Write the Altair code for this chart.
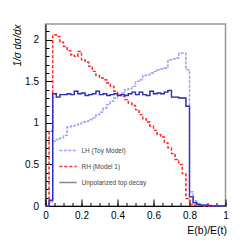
import altair as alt
import pandas as pd

BIN_WIDTH = 0.02
SERIES = ["LH (Toy Model)", "RH (Model 1)", "Unpolarized top decay"]

lh = [0.0, 0.05, 0.78, 0.80, 0.82, 0.85, 0.95, 0.96, 0.97, 0.99,
      1.01, 1.02, 1.04, 1.06, 1.10, 1.13, 1.18, 1.22, 1.26, 1.30,
      1.33, 1.36, 1.40, 1.41, 1.44, 1.50, 1.52, 1.57, 1.58, 1.60,
      1.62, 1.64, 1.65, 1.66, 1.76, 1.77, 1.78, 1.84, 1.84, 1.64,
      0.17, 0.06, 0.03, 0.02, 0.01, 0.01, 0.005, 0.005, 0.0, 0.0]

rh = [0.0, 0.90, 2.06, 2.04, 1.97, 1.92, 1.87, 1.82, 1.80, 1.86,
      1.76, 1.73, 1.68, 1.62, 1.57, 1.54, 1.52, 1.48, 1.44, 1.38,
      1.34, 1.32, 1.28, 1.24, 1.21, 1.16, 1.10, 1.05, 1.01, 0.96,
      0.91, 0.86, 0.83, 0.76, 0.70, 0.63, 0.56, 0.50, 0.39, 0.09,
      0.02, 0.01, 0.01, 0.005, 0.0, 0.0, 0.0, 0.0, 0.0, 0.0]

unpol = [0.0, 0.07, 1.35, 1.31, 1.34, 1.34, 1.35, 1.34, 1.38, 1.35,
         1.36, 1.33, 1.34, 1.35, 1.38, 1.34, 1.35, 1.33, 1.34, 1.35,
         1.33, 1.34, 1.33, 1.35, 1.37, 1.34, 1.37, 1.34, 1.33, 1.38,
         1.35, 1.36, 1.35, 1.37, 1.39, 1.31, 1.31, 1.30, 1.30, 1.20,
         0.11, 0.04, 0.02, 0.01, 0.01, 0.005, 0.0, 0.0, 0.0, 0.0]

x_major = [0, 0.2, 0.4, 0.6, 0.8, 1]
x_minor = [round(i * 0.05, 2) for i in range(21)]
y_major = [0, 0.5, 1, 1.5, 2]
y_minor = [round(i * 0.1, 2) for i in range(22)]

rows = []
for name, vals in zip(SERIES, [lh, rh, unpol]):
    for i, v in enumerate(vals):
        rows.append({"series": name, "x": round(i * BIN_WIDTH, 4), "y": v, "order": i})
    rows.append({"series": name, "x": round(len(vals) * BIN_WIDTH, 4), "y": vals[-1], "order": len(vals)})
df = pd.DataFrame(rows)

x_scale = alt.Scale(domain=[0, 1], nice=False, zero=False)
y_scale = alt.Scale(domain=[0, 2.19], nice=False, zero=False)
dash_range = [[3, 1.5], [3, 2], [1, 0]]

base = alt.Chart(df)

leg = alt.Legend(title=None, orient="none", legendX=13, legendY=117,
                 symbolType="stroke", symbolSize=300, symbolStrokeWidth=1.5,
                 labelFontSize=6.5, labelColor="#444444", labelFont="Liberation Sans",
                 rowPadding=3, labelOffset=4)

legend_layer = base.mark_line(interpolate="step-after", strokeWidth=0.8).encode(
    x=alt.X("x:Q", scale=x_scale, axis=None),
    y=alt.Y("y:Q", scale=y_scale, axis=None),
    color=alt.Color("series:N", scale=alt.Scale(domain=SERIES, range=["#a0a0ff", "#ff3030", "#888888"]), legend=leg),
    strokeDash=alt.StrokeDash("series:N", scale=alt.Scale(domain=SERIES, range=dash_range), legend=leg),
    order="order:Q",
)

main = base.mark_line(interpolate="step-after", strokeWidth=1.4).encode(
    x=alt.X("x:Q", scale=x_scale,
            axis=alt.Axis(orient="bottom", values=x_major, format="~g", ticks=False, grid=False,
                          domainColor="black", labelFontSize=10, labelFont="Liberation Sans",
                          labelColor="black", labelPadding=4, labelFlush=False,
                          title="E(b)/E(t)", titleFontSize=10.5, titleFont="Liberation Sans",
                          titleFontWeight="normal", titleAlign="right", titleBaseline="middle",
                          titleX=181, titleY=24, titleColor="black")),
    y=alt.Y("y:Q", scale=y_scale,
            axis=alt.Axis(orient="left", values=y_major, format="~g", ticks=False, grid=False,
                          domainColor="black", labelFontSize=10, labelFont="Liberation Sans",
                          labelColor="black", labelPadding=7, labelFlush=False,
                          title="1/σ dσ/dx", titleFontSize=10, titleFont="Liberation Sans",
                          titleFontWeight="normal", titleFontStyle="italic", titleAngle=270,
                          titleAlign="right", titleBaseline="middle", titleX=-28, titleY=0,
                          titleColor="black")),
    color=alt.Color("series:N", scale=alt.Scale(domain=SERIES, range=["#a0a0ff", "#ff3030", "#3030c0"]), legend=None),
    strokeDash=alt.StrokeDash("series:N", scale=alt.Scale(domain=SERIES, range=dash_range), legend=None),
    order="order:Q",
)

def tick_layer(xvals, yvals, size):
    return base.mark_point(opacity=0).encode(
        x=alt.X("x:Q", scale=x_scale,
                axis=alt.Axis(orient="bottom", values=xvals, offset=-size, tickSize=size, labels=False,
                              domain=False, grid=False, title=None, tickColor="black", tickWidth=1)),
        y=alt.Y("y:Q", scale=y_scale,
                axis=alt.Axis(orient="left", values=yvals, offset=-size, tickSize=size, labels=False,
                              domain=False, grid=False, title=None, tickColor="black", tickWidth=1)),
    )

chart = alt.layer(legend_layer, main, tick_layer(x_minor, y_minor, 3.5), tick_layer(x_major, y_major, 7)).resolve_scale(
    color="independent", strokeDash="independent"
).resolve_axis(x="independent", y="independent").properties(
    width=180, height=182,
    autosize=alt.AutoSizeParams(type="none"),
    padding={"left": 37.5, "top": 16, "right": 10, "bottom": 35},
).configure_view(stroke="#999999", strokeWidth=1.5)

chart.save("out.html", embed_options={"renderer": "svg", "actions": False})
